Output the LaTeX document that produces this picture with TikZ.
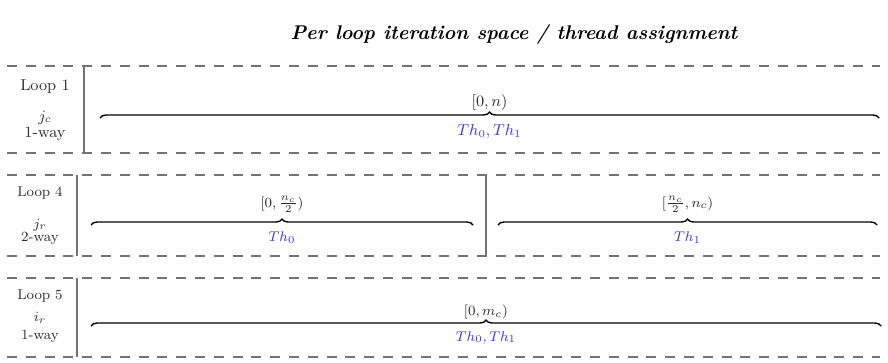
\documentclass[tikz,border=0pt]{standalone}
\usepackage{xcolor}
\usepackage{tikz}
\usetikzlibrary{decorations.pathreplacing}
\definecolor{threadblue}{RGB}{55,55,225}
\definecolor{rulegray}{RGB}{115,115,115}
\definecolor{textgray}{RGB}{45,45,45}

\tikzset{
  rowline/.style={draw=rulegray, line width=0.65pt, dash pattern=on 5.7pt off 5pt},
  splitline/.style={draw=rulegray, line width=0.7pt},
  spacebrace/.style={decorate, decoration={brace, amplitude=3.4pt}, line width=0.8pt},
  looplabel/.style={text=textgray, align=center, inner sep=1pt},
  threadlabel/.style={text=threadblue, inner sep=1pt},
}

\begin{document}
\begin{tikzpicture}
  \useasboundingbox (0,0) rectangle (17.76,7.24);

  % Title
  \node[font=\bfseries\itshape\fontsize{11.3}{13}\selectfont] (title) at (10.28, 6.54) {Per loop iteration space / thread assignment};

  % Loop 1
  \draw[rowline] (0.14, 5.92) -- (17.6, 5.92);
  \draw[rowline] (0.14, 4.18) -- (17.6, 4.18);
  \draw[splitline] (1.68, 5.92) -- (1.68, 4.18);
  \node[looplabel, font=\small] (loop1) at (0.90, 5.50) {Loop 1};
  \node[looplabel, font=\small] (way1) at (0.90, 4.73) {$j_c$\\[-2pt]1-way};
  \coordinate (b1s) at (2.00, 4.88);
  \coordinate (b1e) at (17.58, 4.88);
  \draw[spacebrace] (b1s) -- (b1e);
  \node[looplabel, font=\small] (range1) at (9.79, 5.19) {$[0,n)$};
  \node[threadlabel, font=\small] (th1) at (9.79, 4.60) {$Th_0,Th_1$};

  % Loop 4
  \draw[rowline] (0.14, 3.74) -- (17.6, 3.74);
  \draw[rowline] (0.14, 2.12) -- (17.6, 2.12);
  \draw[splitline] (1.54, 3.74) -- (1.54, 2.12);
  \draw[splitline] (9.72, 3.74) -- (9.72, 2.12);
  \node[looplabel, font=\footnotesize] (loop4) at (0.80, 3.38) {Loop 4};
  \node[looplabel, font=\footnotesize] (way4) at (0.80, 2.61) {$j_r$\\[-2pt]2-way};
  \coordinate (b4s) at (1.82, 2.74);
  \coordinate (b4m) at (9.46, 2.74);
  \coordinate (b4n) at (9.96, 2.74);
  \coordinate (b4e) at (17.54, 2.74);
  \draw[spacebrace] (b4s) -- (b4m);
  \draw[spacebrace] (b4n) -- (b4e);
  \node[looplabel, font=\footnotesize] (range4a) at (5.64, 3.15) {$[0,\frac{n_c}{2})$};
  \node[threadlabel, font=\footnotesize] (th4a) at (5.64, 2.49) {$Th_0$};
  \node[looplabel, font=\footnotesize] (range4b) at (13.75, 3.15) {$[\frac{n_c}{2},n_c)$};
  \node[threadlabel, font=\footnotesize] (th4b) at (13.75, 2.49) {$Th_1$};

  % Loop 5
  \draw[rowline] (0.14, 1.68) -- (17.6, 1.68);
  \draw[rowline] (0.14, 0.10) -- (17.6, 0.10);
  \draw[splitline] (1.54, 1.68) -- (1.54, 0.10);
  \node[looplabel, font=\footnotesize] (loop5) at (0.80, 1.32) {Loop 5};
  \node[looplabel, font=\footnotesize] (way5) at (0.80, 0.69) {$i_r$\\[1pt]1-way};
  \coordinate (b5s) at (1.82, 0.72);
  \coordinate (b5e) at (17.62, 0.72);
  \draw[spacebrace] (b5s) -- (b5e);
  \node[looplabel, font=\footnotesize] (range5) at (9.72, 1.00) {$[0,m_c)$};
  \node[threadlabel, font=\footnotesize] (th5) at (9.72, 0.49) {$Th_0,Th_1$};

\end{tikzpicture}
\end{document}
